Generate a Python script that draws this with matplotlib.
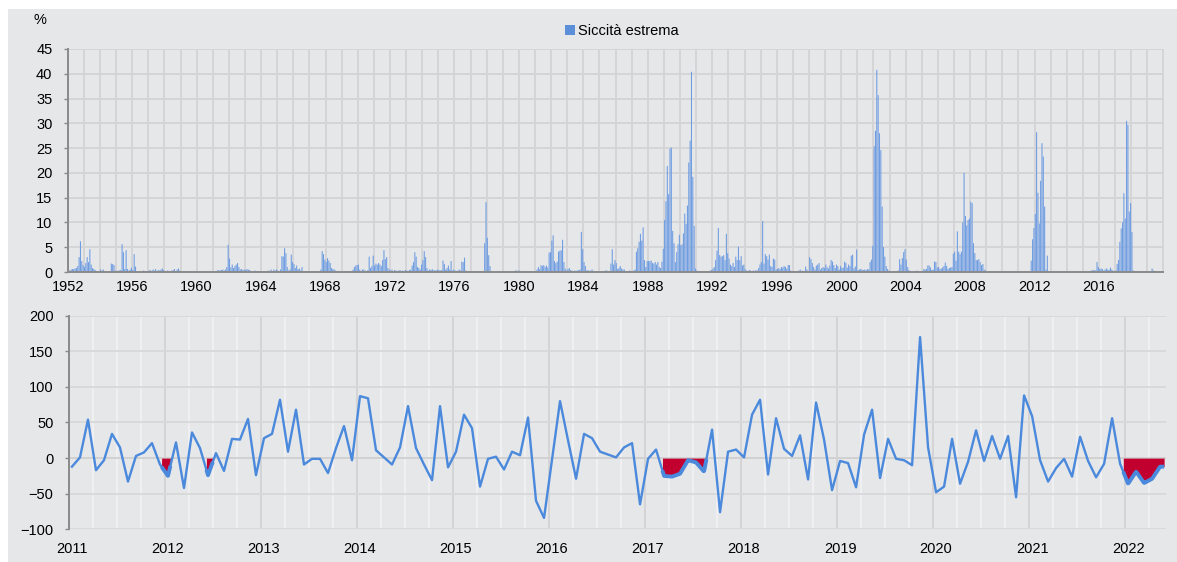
import numpy as np
import matplotlib.pyplot as plt
from matplotlib.patches import Rectangle, Patch

plt.rcParams['font.family'] = ['Liberation Sans', 'DejaVu Sans']

# --- pannello alto: siccita' estrema, % mensile (righe = anni) ---
siccita_1950s = [
    [0.1, 0.3, 0.5, 0.6, 0.6, 0.7, 0.8, 1.2, 3.0, 6.2, 2.2, 1.4],   # 1952
    [1.0, 1.8, 3.0, 2.0, 4.6, 1.5, 0.8, 0.6, 0.4, 0.2, 0.1, 0.0],
    [0.5, 0.3, 0.5, 0.1, 0.0, 0.0, 0.0, 0.1, 1.7, 1.6, 1.4, 0.3],
    [0.2, 0.3, 0.3, 0.4, 5.6, 4.0, 0.6, 4.4, 0.6, 0.3, 0.5, 0.9],
    [0.4, 3.6, 1.1, 0.2, 0.1, 0.0, 0.1, 0.2, 0.3, 0.2, 0.1, 0.2],
    [0.3, 0.4, 0.2, 0.5, 0.3, 0.6, 0.2, 0.4, 0.3, 0.5, 0.7, 0.4],
    [0.2, 0.1, 0.3, 0.2, 0.1, 0.3, 0.4, 0.6, 0.2, 0.5, 0.7, 0.3],
    [0.2, 0.1, 0.1, 0.0, 0.1, 0.0, 0.0, 0.1, 0.0, 0.0, 0.0, 0.0],
]
siccita_1960s = [
    [0.0, 0.0, 0.0, 0.0, 0.0, 0.0, 0.0, 0.0, 0.0, 0.0, 0.0, 0.0],   # 1960
    [0.0, 0.0, 0.2, 0.3, 0.4, 0.3, 0.4, 0.5, 0.3, 0.5, 1.0, 5.5],
    [2.7, 0.9, 1.5, 0.8, 1.2, 1.5, 1.8, 1.0, 0.5, 0.6, 0.4, 0.5],
    [0.4, 0.6, 0.5, 0.4, 0.1, 0.2, 0.1, 0.3, 0.2, 0.1, 0.1, 0.0],
    [0.1, 0.0, 0.2, 0.1, 0.2, 0.3, 0.1, 0.5, 0.2, 0.5, 0.3, 0.5],
    [0.3, 0.2, 0.5, 3.2, 3.1, 4.8, 3.8, 1.0, 0.3, 0.5, 3.5, 2.0],
    [1.6, 0.8, 1.3, 0.6, 0.7, 0.3, 1.0, 0.2, 0.1, 0.2, 0.1, 0.1],
    [0.1, 0.0, 0.1, 0.2, 0.1, 0.0, 0.1, 0.1, 0.5, 4.2, 3.6, 2.5],
    [2.0, 2.8, 2.3, 1.8, 0.8, 0.6, 0.5, 0.3, 0.2, 0.1, 0.1, 0.0],
    [0.0, 0.1, 0.0, 0.0, 0.1, 0.0, 0.0, 0.1, 0.5, 1.0, 1.3, 1.4],
]
siccita_1970s = [
    [1.5, 0.5, 0.2, 0.5, 0.5, 0.3, 0.2, 0.4, 3.1, 0.8, 1.2, 3.3],   # 1970
    [1.3, 1.7, 1.5, 1.8, 1.5, 1.2, 2.4, 4.4, 2.6, 3.0, 0.8, 0.5],
    [0.3, 0.5, 0.2, 0.4, 0.3, 0.2, 0.3, 0.4, 0.2, 0.3, 0.2, 0.4],
    [0.3, 0.2, 0.4, 0.5, 1.3, 2.0, 4.0, 3.1, 1.0, 0.8, 0.5, 1.5],
    [2.4, 4.2, 3.0, 0.8, 0.3, 0.5, 0.4, 0.6, 0.3, 0.4, 0.3, 0.5],
    [0.4, 0.3, 0.4, 2.3, 1.6, 0.5, 0.8, 1.3, 0.5, 2.2, 0.3, 0.5],
    [0.3, 0.2, 0.3, 0.5, 0.3, 2.1, 2.0, 2.9, 0.3, 0.2, 0.1, 0.1],
    [0.1, 0.0, 0.1, 0.0, 0.0, 0.1, 0.0, 0.0, 0.0, 0.1, 5.8, 14.1],
    [6.9, 3.4, 1.2, 0.1, 0.0, 0.0, 0.0, 0.0, 0.0, 0.0, 0.0, 0.0],
    [0.0, 0.0, 0.0, 0.0, 0.1, 0.0, 0.0, 0.0, 0.2, 0.3, 0.3, 0.2],
]
siccita_1980s = [
    [0.3, 0.1, 0.0, 0.0, 0.0, 0.0, 0.0, 0.0, 0.0, 0.0, 0.0, 0.1],   # 1980
    [0.2, 0.5, 1.0, 0.6, 1.4, 1.2, 1.4, 1.0, 1.3, 0.9, 3.9, 4.0],
    [6.3, 7.4, 2.2, 1.8, 2.1, 4.1, 4.3, 4.4, 6.5, 2.0, 0.7, 0.3],
    [0.6, 0.8, 0.4, 0.3, 0.2, 0.3, 0.2, 0.3, 0.4, 0.5, 8.1, 4.6],
    [2.0, 1.2, 0.3, 0.4, 0.2, 0.3, 0.5, 0.2, 0.1, 0.1, 0.1, 0.2],
    [0.1, 0.2, 0.0, 0.1, 0.3, 0.3, 0.2, 0.2, 1.7, 4.6, 1.5, 2.4],
    [1.8, 0.6, 0.8, 1.2, 0.7, 0.5, 0.5, 0.2, 0.1, 0.2, 0.3, 0.1],
    [0.2, 0.3, 0.5, 4.1, 4.8, 6.1, 7.7, 6.3, 9.0, 2.4, 1.0, 2.2],
    [2.2, 2.2, 2.3, 1.8, 1.7, 2.0, 1.5, 2.0, 1.0, 0.8, 2.1, 4.7],
    [10.5, 14.3, 21.4, 15.7, 24.9, 25.1, 8.3, 5.8, 2.0, 4.0, 5.6, 7.5],
]
siccita_1990s = [
    [5.4, 5.6, 7.8, 11.8, 9.7, 13.4, 22.1, 26.5, 40.4, 19.2, 9.3, 0.7],   # 1990
    [0.3, 0.2, 0.1, 0.1, 0.0, 0.1, 0.0, 0.1, 0.1, 0.2, 0.3, 0.4],
    [0.7, 1.0, 2.4, 4.3, 8.9, 3.4, 3.1, 3.2, 3.4, 2.4, 7.7, 3.8],
    [2.7, 1.5, 1.2, 1.8, 1.0, 3.1, 2.4, 5.1, 2.4, 3.2, 1.3, 1.5],
    [0.6, 0.3, 0.2, 0.4, 0.3, 0.2, 0.3, 0.2, 0.4, 0.3, 0.8, 1.5],
    [2.0, 10.3, 1.7, 3.6, 3.2, 2.5, 3.5, 1.2, 1.0, 2.7, 2.5, 0.5],
    [0.6, 0.8, 0.6, 1.0, 0.9, 1.2, 1.0, 0.7, 1.4, 1.4, 0.3, 0.2],
    [0.1, 0.0, 0.0, 0.2, 0.3, 0.5, 0.2, 0.3, 0.1, 1.1, 0.5, 0.2],
    [3.0, 2.6, 1.8, 1.0, 0.5, 1.3, 1.5, 1.8, 0.5, 0.8, 1.0, 0.8],
    [1.5, 1.0, 0.7, 1.3, 2.4, 2.1, 1.4, 0.8, 1.5, 1.2, 0.5, 1.2],
]
siccita_2000s = [
    [0.8, 0.9, 2.1, 1.8, 0.9, 1.5, 1.2, 3.3, 3.5, 0.7, 1.1, 4.5],   # 2000
    [0.4, 0.5, 0.6, 0.5, 0.4, 0.5, 0.4, 0.6, 0.5, 2.0, 2.5, 5.3],
    [25.4, 28.5, 40.8, 35.7, 28.0, 24.6, 13.2, 5.0, 3.1, 1.2, 0.6, 0.3],
    [0.1, 0.0, 0.0, 0.0, 0.0, 0.1, 0.3, 2.6, 1.5, 2.8, 4.0, 4.6],
    [2.5, 1.0, 0.4, 0.2, 0.1, 0.2, 0.1, 0.2, 0.3, 0.1, 0.2, 0.1],
    [0.2, 0.6, 0.5, 0.6, 1.3, 1.3, 0.9, 0.4, 0.5, 2.1, 2.0, 0.9],
    [1.0, 0.6, 0.7, 0.9, 1.2, 1.9, 1.2, 0.6, 0.8, 0.9, 1.0, 3.7],
    [4.1, 2.3, 8.2, 4.1, 3.6, 4.1, 10.0, 20.0, 11.3, 9.4, 10.5, 10.8],
    [14.2, 13.9, 5.8, 3.8, 2.4, 2.4, 2.6, 2.0, 1.4, 1.6, 0.5, 0.3],
    [0.1, 0.0, 0.0, 0.0, 0.0, 0.0, 0.0, 0.0, 0.0, 0.0, 0.0, 0.0],
]
siccita_2010s = [
    [0.0, 0.0, 0.0, 0.0, 0.0, 0.0, 0.0, 0.0, 0.0, 0.0, 0.0, 0.0],   # 2010
    [0.0, 0.0, 0.0, 0.0, 0.0, 0.0, 0.0, 0.0, 0.0, 2.3, 6.6, 8.9],
    [11.7, 28.2, 16.0, 9.8, 18.4, 26.0, 23.3, 13.2, 0.5, 3.3, 0.0, 0.0],
    [0.0, 0.0, 0.0, 0.0, 0.0, 0.0, 0.0, 0.0, 0.0, 0.0, 0.0, 0.0],
    [0.0, 0.0, 0.0, 0.0, 0.0, 0.0, 0.0, 0.0, 0.0, 0.0, 0.0, 0.0],
    [0.0, 0.0, 0.0, 0.0, 0.2, 0.1, 0.3, 0.4, 0.4, 0.3, 2.0, 1.0],
    [0.6, 0.7, 0.6, 0.3, 0.5, 0.7, 0.5, 0.4, 0.9, 0.5, 0.3, 0.1],
    [0.3, 1.6, 2.4, 6.1, 8.8, 10.0, 15.9, 10.8, 30.5, 29.7, 12.2, 13.9],
    [8.1, 0.3, 0.0, 0.0, 0.0, 0.0, 0.0, 0.0, 0.0, 0.0, 0.0, 0.0],
    [0.0, 0.0, 0.0, 0.7, 0.3, 0.2, 0.0, 0.0, 0.0, 0.0, 0.0, 0.0],
]
primo_anno = 1952

# --- pannello basso: indice mensile gen 2011 - mag 2022 ---
var_2011_2014 = [-12, 1, 54, -17, -3, 34, 15, -33, 3, 8, 21, -9,
                 -25, 22, -42, 36, 14, -24, 7, -18, 27, 26, 55, -24,
                 28, 34, 82, 9, 68, -9, -1, -1, -21, 14, 45, -3,
                 87, 84, 11, 1, -9, 15, 73, 14, -9, -31, 73, -13]
var_2015_2018 = [9, 61, 42, -40, -1, 2, -16, 9, 4, 57, -60, -84,
                 -2, 80, 25, -29, 34, 28, 9, 5, 1, 15, 21, -65,
                 -1, 12, -25, -26, -22, -3, -6, -19, 40, -76, 9, 12,
                 1, 61, 82, -23, 56, 13, 3, 32, -30, 78, 26, -45]
var_2019_2022 = [-4, -7, -41, 33, 68, -28, 27, -1, -3, -10, 170, 15,
                 -48, -40, 27, -36, -5, 39, -4, 31, -1, 31, -55, 88,
                 59, -3, -33, -14, -1, -26, 30, -4, -27, -8, 56, -8,
                 -36, -19, -35, -29, -12]
anni_basso = list(range(2011, 2023))
# periodi evidenziati in rosso (indice del mese, da gen 2011 = 0)
periodi_rossi = [(11.2, 12.3), (16.8, 17.6), (73.8, 79.3), (131.4, 136.5)]

blu = '#4a89dc'
blu_barre = '#6f9de2'
rosso = '#c2002f'
sfondo = '#e6e7e9'
griglia = '#d4d4d6'
asse = '#8a8a8a'

siccita = np.concatenate([np.ravel(d) for d in (siccita_1950s, siccita_1960s, siccita_1970s,
                                                 siccita_1980s, siccita_1990s, siccita_2000s,
                                                 siccita_2010s)])
x_top = primo_anno + (np.arange(len(siccita)) + 0.5) / 12
ultimo_anno = primo_anno + len(siccita) // 12

var = np.array(var_2011_2014 + var_2015_2018 + var_2019_2022, dtype=float)
idx = np.arange(len(var))

W, H = 1177, 562
fig = plt.figure(figsize=(W / 100, H / 100), dpi=100)
fig.patch.set_facecolor('white')
fig.patches.append(Rectangle((8 / W, 0), 1 - 8 / W, 1 - 9 / H, transform=fig.transFigure,
                             facecolor=sfondo, edgecolor='none', zorder=-10))

fs = 10.5

# ---------------- top ----------------
ax1 = fig.add_axes([67.7 / W, 1 - 272 / H, (1163.5 - 67.7) / W, (272 - 49) / H])
ax1.patch.set_visible(False)
barre = ax1.bar(x_top, siccita, width=0.8 / 12, color=blu_barre, linewidth=0, zorder=3)
for b in barre:
    b.set_snap(False)
ax1.set_xlim(primo_anno, ultimo_anno)
ax1.set_ylim(0, 45)
ax1.set_yticks(np.arange(0, 46, 5))
ax1.set_xticks(np.arange(primo_anno, ultimo_anno, 4))
ax1.set_xticks(np.arange(primo_anno, ultimo_anno + 1, 1), minor=True)
ax1.grid(True, which='both', axis='x', color=griglia, lw=1.3, zorder=0)
ax1.grid(True, which='major', axis='y', color=griglia, lw=1.3, zorder=0)
ax1.set_axisbelow(True)
for s in ['top', 'right']:
    ax1.spines[s].set_visible(False)
for s in ['left', 'bottom']:
    ax1.spines[s].set_color(asse)
    ax1.spines[s].set_linewidth(1.4)
    ax1.spines[s].set_zorder(4)
ax1.tick_params(axis='x', which='both', length=0, pad=6, labelsize=fs)
ax1.tick_params(axis='y', length=3, width=1, color=asse, pad=8, labelsize=fs)

fig.text(40 / W, 1 - 20 / H, '%', ha='center', va='center', fontsize=fs)
fig.legend(handles=[Patch(facecolor='#5b8fd9', edgecolor='none')], labels=['Siccità estrema'],
           loc='center', bbox_to_anchor=(622 / W, 1 - 31 / H), frameon=False, fontsize=fs,
           handlelength=0.65, handleheight=0.65, handletextpad=0.25)

# ---------------- bottom ----------------
ax2 = fig.add_axes([68.7 / W, 1 - 529.3 / H, (1165.7 - 68.7) / W, (529.3 - 315.7) / H])
ax2.patch.set_visible(False)
ax2.set_xlim(-0.41, len(var) - 0.3)
ax2.set_ylim(-100, 200)
ax2.set_yticks(np.arange(-100, 201, 50))
ax2.grid(True, axis='y', color='#d8d8da', lw=1.3, zorder=0)

trimestri = np.arange(0, len(var), 3) - 0.4
ax2.vlines(trimestri[trimestri > 0], -100, 200, color='#f2f2f3', lw=1.3, zorder=0.5)
inizio_anno = np.arange(0, len(var), 12) - 0.4
ax2.vlines(inizio_anno[inizio_anno > 0], -100, 200, color='#d2d2d4', lw=1.3, zorder=0.6)
ax2.axhline(0, color='#808080', lw=1.2, zorder=1)

for a, b in periodi_rossi:
    xs = np.linspace(a, b, 80)
    ys = np.interp(xs, idx, var)
    ax2.fill_between(xs, 0, np.minimum(ys, 0), color=rosso, lw=0, zorder=2)
    ax2.plot(xs, np.minimum(ys, 0), color=blu, lw=2.8, zorder=3, solid_capstyle='butt')

ax2.plot(idx, var, color=blu, lw=1.7, zorder=4)

ax2.set_xticks(np.arange(0, len(var), 12))
ax2.set_xticklabels([str(a) for a in anni_basso])
for s in ['top', 'right', 'bottom']:
    ax2.spines[s].set_visible(False)
ax2.spines['left'].set_color(asse)
ax2.spines['left'].set_linewidth(1.4)
ax2.tick_params(axis='x', length=0, pad=9, labelsize=fs)
ax2.tick_params(axis='y', length=3, width=1, color=asse, pad=8, labelsize=fs)

fig.savefig('out.png', dpi=100, facecolor=fig.get_facecolor())
